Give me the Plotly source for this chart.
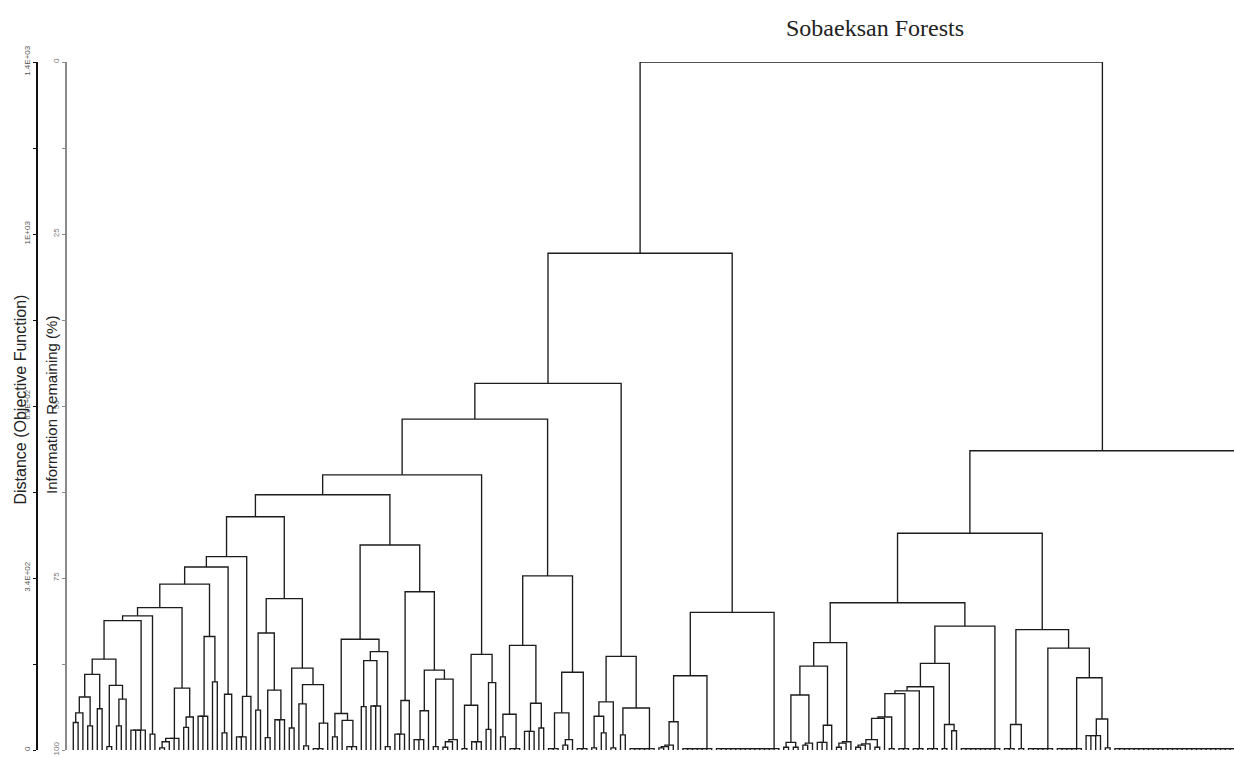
import plotly.graph_objects as go

title_text = "Sobaeksan Forests"
dist_title = "Distance (Objective Function)"
info_title = "Information Remaining (%)"

# Merge level (information remaining, %) between each pair of neighbouring leaves, left to right.
gaps_left_a = [96.0, 94.6, 92.3, 96.5, 89.0, 94.0, 86.8, 99.5, 90.6, 96.5, 92.6, 81.2, 97.1, 97.1,
               97.1, 80.5, 97.7, 79.3, 99.7, 98.8, 98.3, 98.3, 91.0, 96.7, 95.2, 75.9, 95.1, 95.1,
               83.5, 90.1, 73.4, 97.5, 91.9, 71.9, 98.1, 98.1, 92.2, 66.1]
gaps_left_b = [94.2, 83.0, 98.2, 91.3, 95.6, 95.6, 78.0, 96.8, 88.1, 93.3, 99.4, 90.5, 99.8, 99.8,
               96.1, 62.9]
gaps_left_c = [98.1, 94.7, 95.7, 99.5, 99.5, 83.9, 93.7, 87.0, 93.6, 93.6, 85.7, 99.5, 70.2, 97.7,
               97.7, 92.8, 77.0, 98.5, 98.5, 94.3, 88.4, 99.5, 89.7, 99.6, 98.8, 98.5, 60.0]
gaps_left_d = [99.8, 93.5, 98.8, 98.8, 86.1, 97.0, 90.2, 51.9]
gaps_left_e = [98.1, 94.8, 99.8, 99.8, 84.8, 97.3, 97.3, 93.2, 96.8, 74.7, 99.8, 99.8, 94.6, 99.3,
               98.5, 88.7, 99.8, 99.8, 46.7]
gaps_left_f = [99.7, 95.1, 97.5, 93.0, 99.7, 86.4, 97.8, 93.9, 99.8, 99.8, 99.8, 99.8, 99.8, 27.8]
gaps_left_g = [99.7, 99.5, 99.3, 95.9, 89.2, 99.8, 99.8, 99.8, 99.8, 99.8, 99.8, 80.0, 99.8, 99.8,
               99.8, 99.8, 99.8, 99.8, 99.8, 99.8, 99.8, 99.8, 99.8, 99.8, 99.8, 0.0]
gaps_right_a = [99.6, 98.9, 99.6, 92.0, 99.3, 99.0, 87.8, 98.9, 98.9, 96.4, 84.4, 99.6, 99.0, 98.8,
                78.6, 99.6, 99.3, 99.1, 98.5, 99.6, 95.4, 95.2, 99.8, 91.8, 99.8, 99.8, 91.4, 99.8,
                99.8, 90.8, 99.8, 99.8, 87.4, 99.8, 96.3, 97.2, 82.0, 99.8, 99.8, 99.8, 99.8, 99.8,
                99.8, 99.8, 99.8, 68.5]
gaps_right_b = [99.8, 99.8, 96.3, 99.8, 82.5, 99.8, 99.8, 99.8, 99.8, 99.8, 85.2, 99.8, 99.8, 99.8,
                99.8, 99.8, 89.5, 97.9, 97.9, 97.9, 95.5, 99.7, 56.5]
gaps_right_c = [99.8, 99.8, 99.8, 99.8, 99.8, 99.8, 99.8, 99.8, 99.8, 99.8, 99.8, 99.8, 99.8,
                99.8, 99.8, 99.8, 99.8, 99.8, 99.8, 99.8, 99.8, 99.8, 99.8, 99.8, 99.8, 99.8]

info_tickvals = [0, 12.5, 25, 37.5, 50, 62.5, 75, 87.5, 100]
info_ticktext = ["0", "", "25", "", "50", "", "75", "", "100"]
dist_max = 1378.0
dist_tickvals = [0, 172.25, 344.5, 516.75, 689, 861.25, 1033.5, 1205.75, 1378]
dist_ticktext = ["0", "", "3.4E+02", "", "6.9E+02", "", "1E+03", "", "1.4E+03"]

gaps = (gaps_left_a + gaps_left_b + gaps_left_c + gaps_left_d + gaps_left_e + gaps_left_f
        + gaps_left_g + gaps_right_a + gaps_right_b + gaps_right_c)
n_leaves = len(gaps) + 1

xs, ys = [], []


def build(lo, hi):
    if lo == hi:
        return float(lo), 100.0
    seg = gaps[lo:hi]
    m = min(seg)
    k = lo + max(i for i, v in enumerate(seg) if v == m)
    lx, lh = build(lo, k)
    rx, rh = build(k + 1, hi)
    h = gaps[k]
    xs.extend([lx, lx, rx, rx, None])
    ys.extend([lh, h, h, rh, None])
    return (lx + rx) / 2.0, h


build(0, n_leaves - 1)

W, H = 1234, 758
x_lo = -73.3 / 4.8
x_hi = (W - 73.3) / 4.8
y_dom = [8 / H, 696 / H]

fig = go.Figure()
fig.add_trace(go.Scatter(x=xs, y=ys, mode="lines", line=dict(color="#1c1c1c", width=1.35),
                         hoverinfo="skip", showlegend=False))
fig.add_trace(go.Scatter(x=[0, 0], y=[0, dist_max], yaxis="y2", mode="markers",
                         marker=dict(opacity=0), hoverinfo="skip", showlegend=False))

tick_font = dict(family="Liberation Sans, Arial, sans-serif", size=8)
fig.update_layout(
    width=W, height=H, autosize=False,
    margin=dict(l=0, r=0, t=0, b=0, pad=0, autoexpand=False),
    paper_bgcolor="white", plot_bgcolor="white",
    showlegend=False, hovermode=False,
    xaxis=dict(domain=[0, 1], range=[x_lo, x_hi], visible=False, fixedrange=True,
               automargin=False),
    yaxis=dict(domain=y_dom, range=[100, 0], anchor="free", position=66 / W,
               showline=True, linecolor="#8a8a8a", linewidth=1.5,
               ticks="outside", ticklen=3, tickwidth=1, tickcolor="#8a8a8a",
               tickmode="array", tickvals=info_tickvals, ticktext=info_ticktext,
               tickangle=-90, tickfont=dict(tick_font, color="#777"),
               showgrid=False, zeroline=False, fixedrange=True, automargin=False),
    yaxis2=dict(overlaying="y", range=[0, dist_max], anchor="free", position=37 / W,
                side="left", showline=True, linecolor="#111", linewidth=2,
                ticks="outside", ticklen=3, tickwidth=1, tickcolor="#111",
                tickmode="array", tickvals=dist_tickvals, ticktext=dist_ticktext,
                tickangle=-90, tickfont=dict(tick_font, color="#555"),
                showgrid=False, zeroline=False, fixedrange=True, automargin=False),
    annotations=[
        dict(text=title_text, x=875 / W, y=1 - 28 / H, xref="paper", yref="paper",
             showarrow=False, xanchor="center", yanchor="middle",
             font=dict(family="Liberation Serif, Times New Roman, serif", size=24, color="#222")),
        dict(text=dist_title, x=19.5 / W, y=1 - 400 / H, xref="paper", yref="paper",
             showarrow=False, textangle=-90, xanchor="center", yanchor="middle",
             font=dict(family="Liberation Sans, Arial, sans-serif", size=16, color="#222")),
        dict(text=info_title, x=51 / W, y=1 - 405 / H, xref="paper", yref="paper",
             showarrow=False, textangle=-90, xanchor="center", yanchor="middle",
             font=dict(family="Liberation Sans, Arial, sans-serif", size=15, color="#222")),
    ],
)

fig.write_html("out.html", config={"displayModeBar": False},
               post_script="document.body.style.margin='0';")
